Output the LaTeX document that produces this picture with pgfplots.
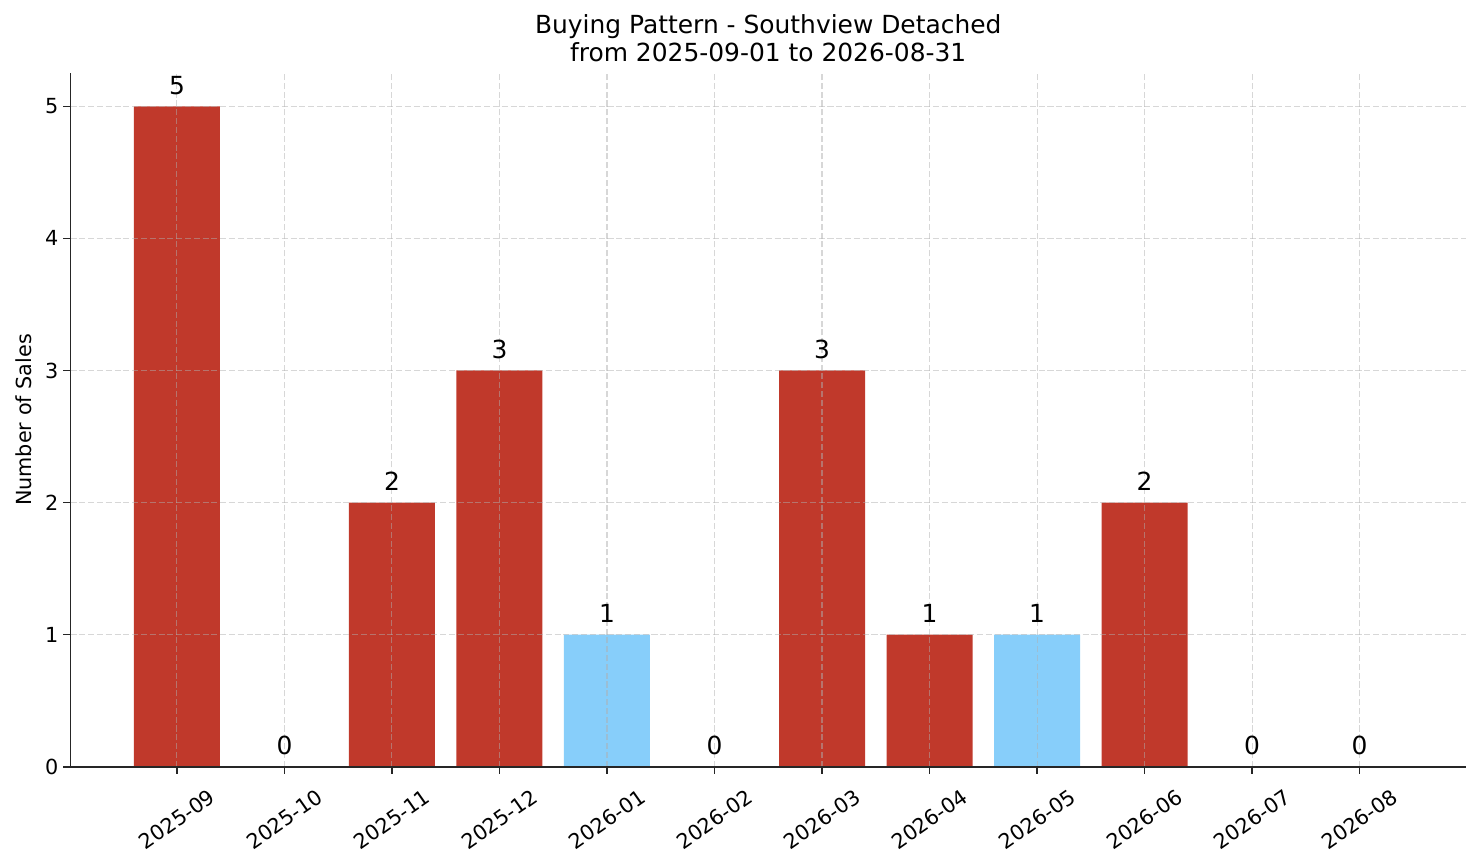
\documentclass[border=0pt]{standalone}
\usepackage{fontspec}
\setmainfont{DejaVu Sans}
\usepackage{pgfplots}
\pgfplotsset{compat=1.18}

\definecolor{barred}{HTML}{C0392B}
\definecolor{barblue}{HTML}{87CEFA}
\definecolor{gridgray}{HTML}{B0B0B0}
\definecolor{spine}{HTML}{262626}

\begin{document}
\begin{tikzpicture}
\begin{axis}[
  name=ax,
  scale only axis,
  width=669.8bp, height=332.8bp,
  xmin=-0.99, xmax=11.99,
  ymin=0, ymax=5.25,
  axis x line*=bottom, axis y line*=left,
  axis line style={spine, line width=0.8pt},
  axis on top,
  ybar, bar width=0.8, bar shift=0pt,
  xtick={0,...,11},
  xticklabels={2025-09,2025-10,2025-11,2025-12,2026-01,2026-02,2026-03,2026-04,2026-05,2026-06,2026-07,2026-08},
  ytick={0,1,2,3,4,5},
  tick align=outside,
  major tick length=3.5pt,
  tick style={spine, line width=0.8pt},
  /pgf/number format/assume math mode=true,
  ticklabel style={font=\fontsize{10}{12}\selectfont},
  xticklabel style={yshift=-21.8bp, rotate=35, anchor=center},
  yticklabel style={anchor=east, inner sep=0pt, xshift=-2.2bp},
  xmajorgrids, ymajorgrids,
  grid style={gridgray, draw opacity=0.5, line width=0.5pt, dash pattern=on 2.96pt off 1.28pt},
  ylabel={Number of Sales},
  ylabel style={at={(axis description cs:-0.0337,0.5)}, anchor=center, font=\fontsize{10}{12}\selectfont},
  title={Buying Pattern - Southview Detached\\from 2025-09-01 to 2026-08-31},
  title style={at={(axis description cs:0.5,1)}, anchor=south, yshift=-0.7bp, inner sep=0pt, align=center, font=\fontsize{12}{13.4}\selectfont},
  nodes near coords,
  nodes near coords style={font=\fontsize{12}{14}\selectfont, anchor=base, yshift=5.76bp, black},
]
\addplot[fill=barred, draw=none] coordinates {
  (0,5) (1,0) (2,2) (3,3) (5,0) (6,3) (7,1) (9,2) (10,0) (11,0)
};
\addplot[fill=barblue, draw=none] coordinates {
  (4,1) (8,1)
};
\end{axis}
\pgfresetboundingbox
\path ([xshift=-33.84bp,yshift=-46.2bp]ax.south west) rectangle ([xshift=7.2bp,yshift=35.2bp]ax.north east);
\end{tikzpicture}
\end{document}
